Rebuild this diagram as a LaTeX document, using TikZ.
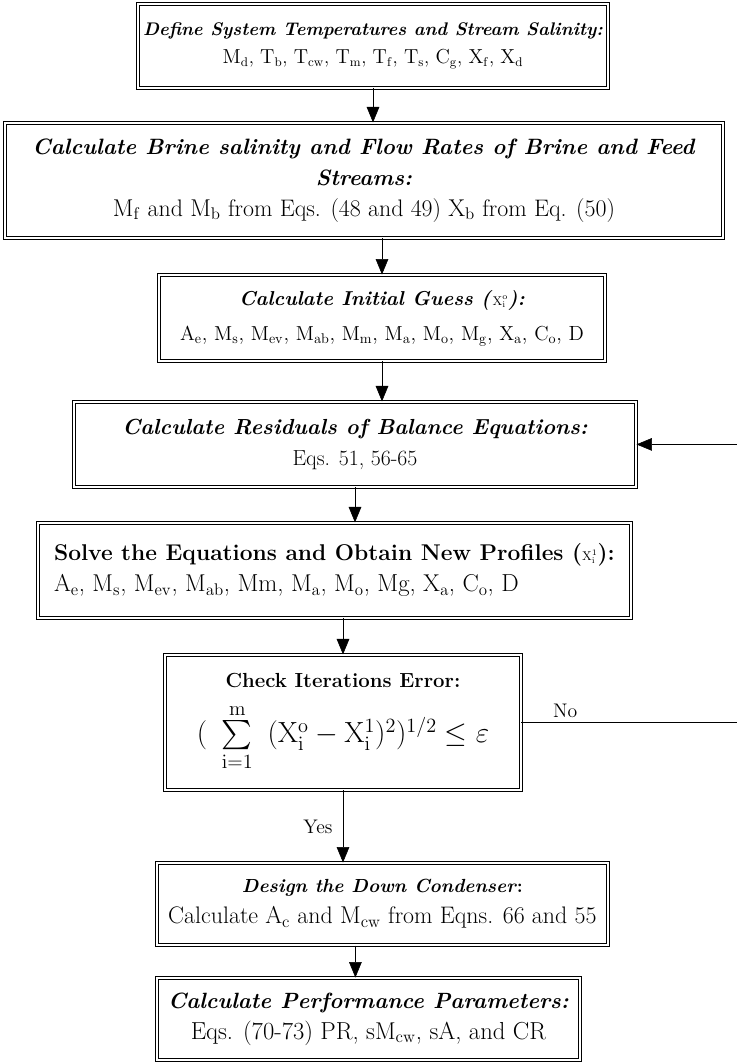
\documentclass[tikz,border=0pt]{standalone}
\usepackage{amsmath}
\usetikzlibrary{arrows.meta,calc}
\tikzset{
  box/.style={draw, double, double distance=1.4pt, line width=0.7pt, align=center, inner sep=3pt, font=\fontsize{15}{22}\selectfont},
  lbl/.style={font=\fontsize{14}{18}\selectfont}
}
\newcommand{\ttl}[1]{\textbf{\textit{#1}}}
\newcommand{\varsub}[2]{$\mathrm{#1_{#2}}$}
\newcommand{\fs}[1]{\fontsize{#1}{22}\selectfont}

\begin{document}
\begin{tikzpicture}[>={Triangle[width=9pt,length=11pt]}]
\useasboundingbox (0,0) rectangle (18.425,-26.6);
\node (def) at (9.325,-1.15) [box, minimum width=11.75cm, minimum height=2.1cm, font=\fontsize{13}{20}\selectfont] {\ttl{Define System Temperatures and Stream Salinity:}\\ {\fs{13.5}\varsub{M}{d}, \varsub{T}{b}, \varsub{T}{cw}, \varsub{T}{m}, \varsub{T}{f}, \varsub{T}{s}, \varsub{C}{g}, \varsub{X}{f}, \varsub{X}{d}}};
\node (brine) at (9.1,-4.51) [box, minimum width=17.95cm, minimum height=2.875cm, font=\fs{15.8}] {\ttl{Calculate Brine salinity and Flow Rates of Brine and Feed}\\ \ttl{Streams:}\\ {\fs{17}\varsub{M}{f} and \varsub{M}{b} from Eqs. (48 and 49) \varsub{X}{b} from Eq. (50)}};
\node (guess) at (9.55,-7.95) [box, minimum width=11.15cm, minimum height=2.15cm, font=\fontsize{14.3}{25}\selectfont] {\ttl{Calculate Initial Guess (}{\small$\mathrm{X_i^o}$}\ttl{):}\\ {\fontsize{14.6}{25}\selectfont\varsub{A}{e}, \varsub{M}{s}, \varsub{M}{ev}, \varsub{M}{ab}, \varsub{M}{m}, \varsub{M}{a}, \varsub{M}{o}, \varsub{M}{g}, \varsub{X}{a}, \varsub{C}{o}, D}};
\node (resid) at (8.875,-11.11) [box, minimum width=14.05cm, minimum height=2.125cm, font=\fs{15.5}] {\ttl{Calculate Residuals of Balance Equations:}\\ Eqs. 51, 56-65};
\node (solve) at (8.36,-14.26) [box, minimum width=14.825cm, minimum height=2.375cm, align=left, font=\fs{16.2}] {\textbf{Solve the Equations and Obtain New Profiles (}{\small$\mathrm{X_i^1}$}\textbf{):}\\ {\fs{17.5}\varsub{A}{e}, \varsub{M}{s}, \varsub{M}{ev}, \varsub{M}{ab}, Mm, \varsub{M}{a}, \varsub{M}{o}, Mg, \varsub{X}{a}, \varsub{C}{o}, D}};
\node (check) at (8.575,-18.06) [box, minimum width=8.9cm, minimum height=3.375cm, font=\fs{14.5}] {\textbf{Check Iterations Error:}\\[10pt] {\fontsize{21}{24}\selectfont$(\hspace{0.5em}\sum\limits_{\mathrm{i=1}}^{\mathrm{m}}\hspace{0.5em}(\mathrm{X_i^o}-\mathrm{X_i^1})^2)^{1/2}\le\varepsilon$}};
\node (design) at (9.56,-22.6) [box, minimum width=11.275cm, minimum height=2.05cm] {{\fs{13.5}\ttl{Design the Down Condenser}\textbf{:}}\\ {\fs{17}Calculate \varsub{A}{c} and \varsub{M}{cw} from Eqns. 66 and 55}};
\node (perf) at (9.21,-25.475) [box, minimum width=10.575cm, minimum height=2.05cm] {{\fs{15.7}\ttl{Calculate Performance Parameters:}}\\ {\fs{17.5}Eqs. (70-73) PR, s\varsub{M}{cw}, sA, and CR}};
\draw[->] (def.south) -- (def.south |- brine.north);
\draw[->] (guess.north |- brine.south) -- (guess.north);
\draw[->] (guess.south) -- (guess.south |- resid.north);
\draw[->] (resid.south) -- (resid.south |- solve.north);
\draw[->] (check.north |- solve.south) -- (check.north);
\draw[->] (check.south) -- (check.south |- design.north) node[midway, left=4pt, lbl] {Yes};
\coordinate (dp) at ($(design.south)+(-0.675,0)$);
\draw[->] (dp) -- (dp |- perf.north);
\coordinate (back) at (18.5,-18.06);
\draw (check.east) -- (back) node[pos=0.2, above, lbl] {No};
\draw[->] (back) |- (resid.east);
\end{tikzpicture}
\end{document}
